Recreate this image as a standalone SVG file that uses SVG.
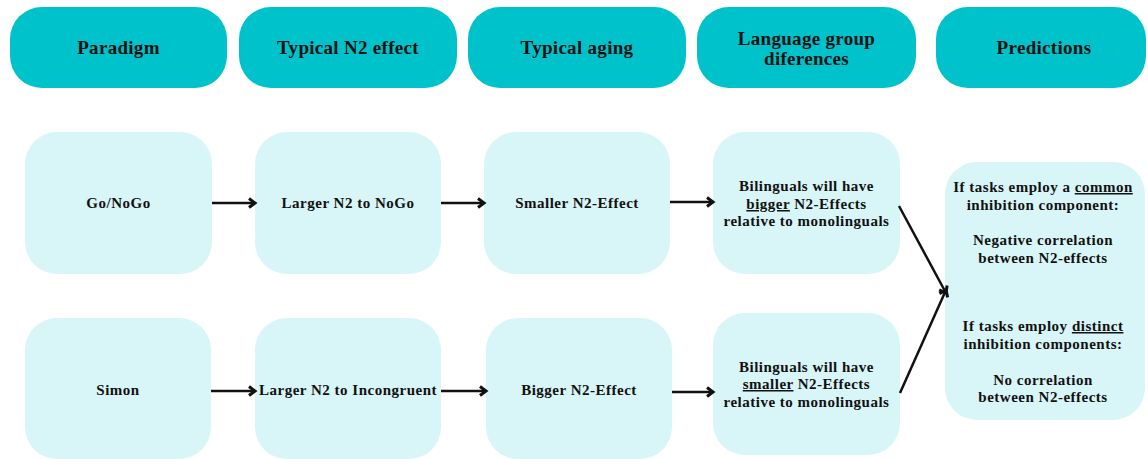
<svg xmlns="http://www.w3.org/2000/svg" width="1148" height="459" viewBox="0 0 1148 459">
<defs>
<marker id="arr" markerUnits="userSpaceOnUse" markerWidth="14" markerHeight="14" refX="10" refY="6" orient="auto">
<path d="M4,1.5 L10,6 L4,10.5" fill="none" stroke="#111" stroke-width="3" stroke-linejoin="miter"/>
</marker>
<style>
.hd{fill:#00C2CB}
.bx{fill:#D8F5F7}
text{font-family:"Liberation Serif","Times New Roman",serif;font-weight:bold;fill:#111;text-anchor:middle}
.ht{font-size:19px;letter-spacing:0.3px}
.bt{font-size:15px;letter-spacing:0.5px}
.u{text-decoration:underline}
.c{stroke:#111;stroke-width:2.5;fill:none;marker-end:url(#arr)}
</style>
</defs>
<rect width="1148" height="459" fill="#fff"/>
<g id="h-paradigm"><rect class="hd" x="10" y="7" width="217" height="81" rx="32"/><text class="ht" x="118.5" y="54">Paradigm</text></g>
<g id="h-n2"><rect class="hd" x="239" y="7" width="218" height="81" rx="32"/><text class="ht" x="348" y="54">Typical N2 effect</text></g>
<g id="h-aging"><rect class="hd" x="468" y="7" width="218" height="81" rx="32"/><text class="ht" x="577" y="54">Typical aging</text></g>
<g id="h-lang"><rect class="hd" x="697" y="7" width="219" height="81" rx="32"/><text class="ht" x="806.5" y="45">Language group</text><text class="ht" x="806.5" y="65">diferences</text></g>
<g id="h-pred"><rect class="hd" x="936" y="7" width="210" height="81" rx="32"/><text class="ht" x="1044" y="54">Predictions</text></g>

<g id="n-gonogo"><rect class="bx" x="25" y="132" width="187" height="142" rx="32"/><text class="bt" x="118.5" y="208">Go/NoGo</text></g>
<g id="n-nogo"><rect class="bx" x="255" y="132" width="186" height="142" rx="32"/><text class="bt" x="348" y="208">Larger N2 to NoGo</text></g>
<g id="n-smaller"><rect class="bx" x="484" y="132" width="186" height="142" rx="32"/><text class="bt" x="577" y="208">Smaller N2-Effect</text></g>
<g id="n-lang1"><rect class="bx" x="713" y="132" width="187" height="142" rx="32"/>
<text class="bt" x="806.5" y="191">Bilinguals will have</text>
<text class="bt" x="806.5" y="209"><tspan class="u">bigger</tspan> N2-Effects</text>
<text class="bt" x="806.5" y="226">relative to monolinguals</text></g>

<g id="n-simon"><rect class="bx" x="25" y="318" width="186" height="141" rx="32"/><text class="bt" x="118" y="395">Simon</text></g>
<g id="n-incong"><rect class="bx" x="255" y="318" width="186" height="141" rx="32"/><text class="bt" x="348" y="395">Larger N2 to Incongruent</text></g>
<g id="n-bigger"><rect class="bx" x="486" y="318" width="186" height="141" rx="32"/><text class="bt" x="579" y="395">Bigger N2-Effect</text></g>
<g id="n-lang2"><rect class="bx" x="713" y="313" width="187" height="142" rx="32"/>
<text class="bt" x="806.5" y="372">Bilinguals will have</text>
<text class="bt" x="806.5" y="389"><tspan class="u">smaller</tspan> N2-Effects</text>
<text class="bt" x="806.5" y="407">relative to monolinguals</text></g>

<g id="n-pred"><rect class="bx" x="945" y="162" width="200" height="258" rx="32"/>
<text class="bt" x="1043" y="192">If tasks employ a <tspan class="u">common</tspan></text>
<text class="bt" x="1043" y="210">inhibition component:</text>
<text class="bt" x="1043" y="245">Negative correlation</text>
<text class="bt" x="1043" y="263">between N2-effects</text>
<text class="bt" x="1043" y="331">If tasks employ <tspan class="u">distinct</tspan></text>
<text class="bt" x="1043" y="349">inhibition components:</text>
<text class="bt" x="1043" y="385">No correlation</text>
<text class="bt" x="1043" y="402">between N2-effects</text></g>

<g id="connectors">
<line class="c" x1="212" y1="203" x2="255" y2="203"/>
<line class="c" x1="441" y1="203" x2="484" y2="203"/>
<line class="c" x1="670" y1="202" x2="713" y2="202"/>
<line class="c" x1="211" y1="391" x2="255" y2="391"/>
<line class="c" x1="441" y1="391" x2="486" y2="391"/>
<line class="c" x1="672" y1="392" x2="713" y2="392"/>
<line class="c" x1="899" y1="206" x2="946" y2="293"/>
<line class="c" x1="900" y1="393" x2="946" y2="290"/>
</g>
</svg>
